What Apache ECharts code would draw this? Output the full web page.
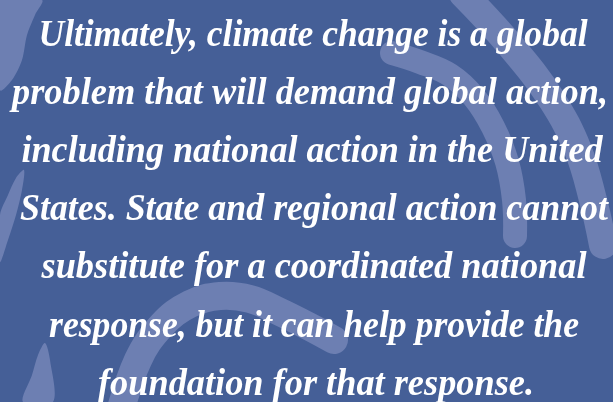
<!DOCTYPE html>
<html>
<head>
<meta charset="utf-8">
<style>
    html, body { margin: 0; padding: 0; }
    .quote { width: 613px; height: 402px; }
</style>
<script src="https://cdn.jsdelivr.net/npm/echarts@6/dist/echarts.min.js"></script>
</head>
<body>
<div class="quote"></div>
<script>
var lines = [
    'Ultimately, climate change is a global',
    'problem that will demand global action,',
    'including national action in the United',
    'States. State and regional action cannot',
    'substitute for a coordinated national',
    'response, but it can help provide the',
    'foundation for that response.'
];

(function () {
    var font = 'italic bold 37px "Liberation Serif"';
    // layout: width and centre of each printed line, baselines every ~58px
    var lineWidth = [549, 596, 581, 588, 545, 530, 436];
    var lineCenter = [313, 310, 312, 314, 314, 314, 316];
    var ctx = document.createElement('canvas').getContext('2d');
    ctx.font = font;

    var swirl = '#6d7fb2';
    var elements = [
        // brush strokes behind the text
        {
            type: 'polyline',
            shape: { points: [[463, -6], [510, 45], [552, 100], [578, 150], [593, 200], [603, 245]], smooth: 0.4 },
            style: { stroke: swirl, lineWidth: 28, lineCap: 'round', fill: null }
        },
        {
            type: 'polyline',
            shape: { points: [[392, 53], [420, 62], [450, 75], [474, 97], [493, 127], [507, 162], [514, 200], [515, 236]], smooth: 0.4 },
            style: { stroke: swirl, lineWidth: 24, lineCap: 'round', fill: null }
        },
        {
            type: 'polyline',
            shape: { points: [[118, 420], [138, 360], [162, 325], [190, 304], [220, 296], [250, 299], [280, 312], [310, 327], [334, 340]], smooth: 0.4 },
            style: { stroke: swirl, lineWidth: 28, lineCap: 'round', fill: null }
        },
        {
            type: 'polygon',
            shape: { points: [[0, 0], [42, 0], [35, 15], [27, 35], [22, 60], [12, 80], [0, 90]], smooth: 0.3 },
            style: { fill: swirl }
        },
        {
            type: 'polygon',
            shape: { points: [[0, 215], [8, 195], [16, 178], [24, 170], [22, 190], [16, 215], [8, 240], [0, 262]], smooth: 0.3 },
            style: { fill: swirl }
        },
        {
            type: 'polygon',
            shape: { points: [[45, 343], [50, 360], [53, 402], [23, 402], [32, 375], [38, 355]], smooth: 0.3 },
            style: { fill: swirl }
        }
    ];

    for (var i = 0; i < lines.length; i++) {
        var w = ctx.measureText(lines[i]).width;
        elements.push({
            type: 'text',
            x: lineCenter[i],
            y: 36 + i * 58.2,
            scaleX: lineWidth[i] / w,
            style: {
                text: lines[i],
                font: font,
                fill: '#ffffff',
                align: 'center',
                verticalAlign: 'middle'
            }
        });
    }

    var myChart = echarts.init(document.querySelector('.quote'));
    var option = {
        backgroundColor: '#455f97',
        graphic: {
            elements: elements
        }
    };
    myChart.setOption(option);
    window.addEventListener('resize', function () {
        myChart.resize();
    });
})();
</script>
</body>
</html>
